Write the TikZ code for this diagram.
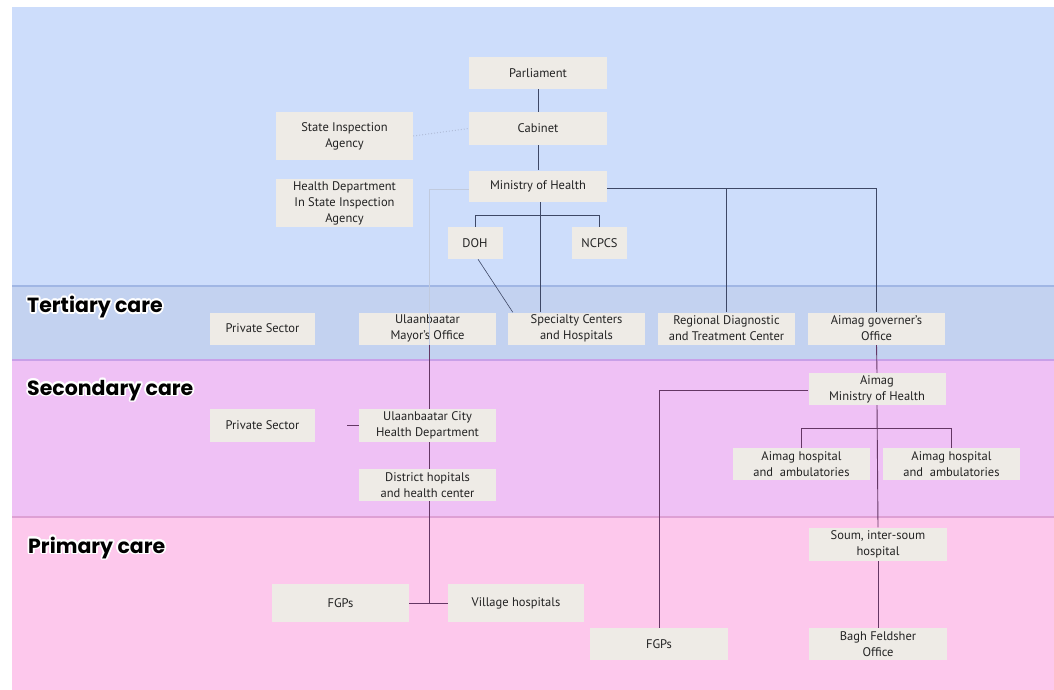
\documentclass[tikz,border=0pt]{standalone}
\usepackage{fontspec}
\setmainfont{PT Sans}
\newfontfamily\bandfont{Poppins}
\usepackage{contour}
\contourlength{1.7pt}
\usetikzlibrary{calc}
\definecolor{topblue}{RGB}{205,221,251}
\definecolor{tertblue}{RGB}{195,210,240}
\definecolor{secpurple}{RGB}{239,193,245}
\definecolor{primpink}{RGB}{253,200,236}
\definecolor{boxfill}{RGB}{238,235,230}
\definecolor{sepblue}{RGB}{160,182,228}
\definecolor{seppurple}{RGB}{200,160,232}
\definecolor{seppink}{RGB}{222,160,212}
\definecolor{lineblue}{RGB}{62,72,102}
\definecolor{linepurple}{RGB}{100,55,100}
\definecolor{lightline}{RGB}{192,202,222}
\definecolor{dotline}{RGB}{178,190,218}
\definecolor{txt}{RGB}{35,35,35}
\pgfdeclarelayer{bands}
\pgfdeclarelayer{lines}
\pgfdeclarelayer{fore}
\pgfsetlayers{bands,lines,main,fore}
\tikzset{
  box/.style={fill=boxfill, text=txt, align=center, inner sep=0pt,
    minimum width=137pt, minimum height=32pt,
    font=\fontsize{12.5}{16}\selectfont},
  bandlabel/.style={anchor=base west, inner sep=0pt, text=black,
    font=\bandfont\bfseries\fontsize{20.5}{22}\selectfont},
  lb/.style={draw=lineblue, line width=0.9pt},
  lp/.style={draw=linepurple, line width=0.9pt},
}
\begin{document}
\begin{tikzpicture}[x=1pt,y=-1pt]
\useasboundingbox (0,0) rectangle (1054,690);
\begin{pgfonlayer}{bands}
\fill[white] (0,0) rectangle (1054,690);
\fill[topblue] (12,7) rectangle (1054,286);
\fill[tertblue] (12,286) rectangle (1054,360);
\fill[secpurple] (12,360) rectangle (1054,517);
\fill[primpink] (12,517) rectangle (1054,690);
\draw[sepblue, line width=1.2pt] (12,286) -- (1054,286);
\draw[seppurple, line width=1.5pt] (12,360) -- (1054,360);
\draw[seppink, line width=1.5pt] (12,517) -- (1054,517);
\end{pgfonlayer}

% band labels
\node[bandlabel] (lt) at (27,312.5) {\contour{white}{Tertiary care}};
\node[bandlabel] (ls) at (27,395) {\contour{white}{Secondary care}};
\node[bandlabel] (lpr) at (28,553) {\contour{white}{Primary care}};

% boxes
\node[box, minimum width=138pt] (parl) at (538,73) {Parliament};
\node[box, minimum width=138pt] (cab) at (538,128.5) {Cabinet};
\node[box, minimum height=48pt] (sia) at (344.5,136) {State Inspection\\Agency};
\node[box, minimum height=48pt] (hdsia) at (344.5,203) {Health Department\\In State Inspection\\Agency};
\node[box, minimum width=138pt, minimum height=31pt] (moh) at (538,186) {Ministry of Health};
\node[box, minimum width=55pt] (doh) at (475,243) {DOH};
\node[box, minimum width=55pt] (ncpcs) at (599.5,243) {NCPCS};

\node[box, minimum width=105pt] (tps) at (262.5,328.5) {Private Sector};
\node[box] (mayor) at (427.5,328.5) {Ulaanbaatar\\Mayor's Office};
\node[box] (spec) at (576.5,328.5) {Specialty Centers\\and Hospitals};
\node[box] (rdtc) at (726.5,328.5) {Regional Diagnostic\\and Treatment Center};
\node[box] (agov) at (876.5,328.5) {Aimag governer's\\Office};

\node[box, minimum width=105pt, minimum height=33pt] (sps) at (262.5,425.5) {Private Sector};
\node[box, minimum height=33pt] (ubchd) at (427.5,425.5) {Ulaanbaatar City\\Health Department};
\node[box] (dist) at (427.5,485) {District hopitals\\and health center};
\node[box] (amoh) at (877,389) {Aimag\\Ministry of Health};
\node[box] (ah1) at (801.5,464) {Aimag hospital\\and\ \ ambulatories};
\node[box] (ah2) at (951.5,464) {Aimag hospital\\and\ \ ambulatories};

\node[box, minimum height=38pt] (fgp1) at (340.5,603) {FGPs};
\node[box, minimum width=136pt, minimum height=38pt] (vill) at (516,603) {Village hospitals};
\node[box, minimum width=138pt, minimum height=33pt] (soum) at (878,544) {Soum, inter-soum\\hospital};
\node[box, minimum width=138pt] (fgp2) at (659,644) {FGPs};
\node[box, minimum width=138pt] (bagh) at (878,644) {Bagh Feldsher\\Office};

% connectors
\begin{pgfonlayer}{lines}
\draw[lb] (parl.south) -- (cab.north);
\draw[lb] (cab.south) -- (moh.north);
\draw[dotline, line width=1pt, dotted] (sia.east) -- (cab.west);
\draw[lb] ([xshift=2pt]moh.south) -- ([xshift=2pt]moh.south |- spec.north);
\draw[lb] (doh.north) |- ($(moh.south)+(0,13.5)$) -| (ncpcs.north);
\draw[lb, line width=0.6pt] ([xshift=3pt]doh.south) -- ([xshift=5pt]spec.north west);
\draw[lb] ([yshift=-2pt]moh.east) -| (rdtc.north);
\draw[lb] ([yshift=-2pt]moh.east) -| (agov.north);
\draw[lp] ([xshift=2pt]mayor.south) -- ([xshift=2pt]ubchd.north);
\draw[lp, shorten <=32pt] (sps.east) -- (ubchd.west);
\draw[lp] ([xshift=2pt]ubchd.south) -- ([xshift=2pt]dist.north);
\draw[lp] ([xshift=2pt]dist.south) -- ([xshift=2pt]dist.south |- fgp1.east);
\draw[lp] (fgp1.east) -- (vill.west);
\draw[lp] (agov.south) -- (amoh.north);
\draw[lp] (amoh.south) -- (soum.north);
\draw[lp] (soum.south) -- (bagh.north);
\draw[lp] (ah1.north) |- ($(amoh.south)+(0,23)$) -| (ah2.north);
\draw[lp] ([yshift=-1pt]amoh.west) -| (fgp2.north);
\end{pgfonlayer}
\begin{pgfonlayer}{fore}
\draw[lightline, line width=0.9pt] ([yshift=-3pt]moh.west) -| ([xshift=2pt]mayor.south);
\end{pgfonlayer}
\end{tikzpicture}
\end{document}
